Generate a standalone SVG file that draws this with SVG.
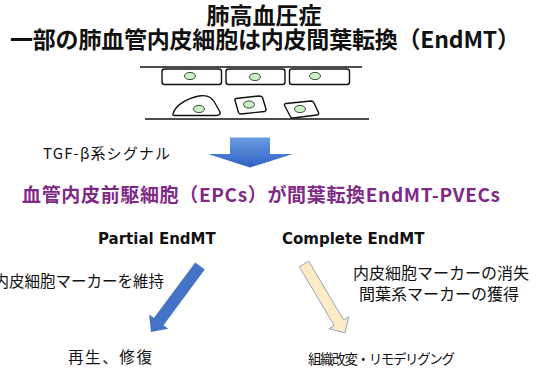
<svg xmlns="http://www.w3.org/2000/svg" width="539" height="372" viewBox="0 0 539 372">
  <defs>
    <linearGradient id="gradDown" x1="0" y1="0" x2="0" y2="1">
      <stop offset="0" stop-color="#6a9be0"/>
      <stop offset="1" stop-color="#2f62c6"/>
    </linearGradient>
    <style>
      .jp { font-family: "Noto Sans CJK JP", "Noto Sans", sans-serif; fill: #111; }
      .title { font-size: 23px; font-weight: bold; }
      .sub { font-family: "DejaVu Sans", "Noto Sans", sans-serif; font-size: 15px; font-weight: bold; fill: #111; }
      .body { font-size: 15.5px; }
      .hl { font-size: 19px; font-weight: bold; fill: #7f2a87; }
      .membrane { stroke: #111; stroke-width: 1.4; fill: none; }
      .cell { stroke: #111; stroke-width: 1.4; fill: #fff; stroke-linejoin: round; }
      .nucleus { fill: #c9f0c6; stroke: #2a3a2a; stroke-width: 0.9; }
    </style>
  </defs>

  <!-- headings -->
  <g id="title">
    <text class="jp title" x="264" y="24" text-anchor="middle">肺高血圧症</text>
    <text class="jp title" x="10" y="48" textLength="510">一部の肺血管内皮細胞は内皮間葉転換（EndMT）</text>
  </g>

  <!-- vessel wall: endothelial layer above, mesenchymal cells below -->
  <g id="vessel">
    <line class="membrane" x1="140" y1="67" x2="362" y2="67"/>
    <line class="membrane" x1="145" y1="119" x2="369" y2="119"/>
    <rect class="cell" x="162" y="69" width="59.5" height="15.5" rx="2.5"/>
    <rect class="cell" x="226" y="69" width="59" height="15.5" rx="2.5"/>
    <rect class="cell" x="289.5" y="69" width="60" height="15.5" rx="2.5"/>
    <ellipse class="nucleus" cx="190" cy="76" rx="5.5" ry="3.6"/>
    <ellipse class="nucleus" cx="255" cy="77" rx="5.5" ry="3.6"/>
    <ellipse class="nucleus" cx="315" cy="76" rx="5.5" ry="3.6"/>
    <path class="cell" d="M173,114 C175,106 185,99 199,96 C207,94.5 212,97 215,103 L220,112 C221,115 218,115.5 215,115.5 L176,115.5 C173.5,115.5 172.5,115.5 173,114 Z"/>
    <path class="cell" d="M236,98.5 L259,96 C261,96 262,96.5 262.5,97.5 L266,109 C266.5,110.5 266,111 264.5,111.5 L241,114 C239.5,114 239,113.5 238.5,112.5 L235,100.5 C234.8,99.3 235.2,98.6 236,98.5 Z"/>
    <path class="cell" d="M286,103.5 L311,101 C312.5,101 313.3,101.5 313.8,102.5 L318.5,112.5 C319,114 318.5,114.8 317,115 L293,118 C291.5,118.2 290.8,117.7 290.4,116.5 L284.5,105.5 C284,104.3 284.8,103.6 286,103.5 Z"/>
    <ellipse class="nucleus" cx="199" cy="109" rx="5.5" ry="3.6"/>
    <ellipse class="nucleus" cx="249" cy="104.5" rx="5.5" ry="3.6"/>
    <ellipse class="nucleus" cx="300" cy="109" rx="5.5" ry="3.6"/>
  </g>

  <g id="signal">
    <text class="jp" x="43" y="159" font-size="15" textLength="127">TGF-β系シグナル</text>
  </g>

  <g id="epc">
    <text class="jp hl" x="22" y="202" textLength="478">血管内皮前駆細胞（EPCs）が間葉転換EndMT-PVECs</text>
  </g>

  <g id="partial">
    <text class="sub" x="98" y="244">Partial EndMT</text>
    <text class="jp body" x="164" y="287" text-anchor="end">内皮細胞マーカーを維持</text>
    <text class="jp body" x="68" y="363" textLength="84">再生、修復</text>
  </g>

  <g id="complete">
    <text class="sub" x="282" y="244">Complete EndMT</text>
    <text class="jp" x="441" y="279" text-anchor="middle" font-size="16">内皮細胞マーカーの消失</text>
    <text class="jp" x="439" y="300" text-anchor="middle" font-size="16">間葉系マーカーの獲得</text>
    <text class="jp" x="308" y="364" font-size="13.5" textLength="147">組織改変・リモデリグング</text>
  </g>

  <!-- arrows -->
  <g id="connectors">
    <polygon fill="url(#gradDown)" points="230,137.5 270,137.5 270,154 293,154 250,167.5 208,154 230,154"/>
    <polygon fill="#4472c4" points="195.2,262.4 204.8,269.6 163.5,325.2 168.3,328.8 151,332 149.1,314.4 153.9,318"/>
    <polygon fill="#fcebc4" stroke="#9aa3b5" stroke-width="1" stroke-linejoin="round" points="299.3,266.8 308.7,261.2 343.6,319.9 348.8,316.8 345,333 329,328.6 334.2,325.5"/>
  </g>
</svg>
